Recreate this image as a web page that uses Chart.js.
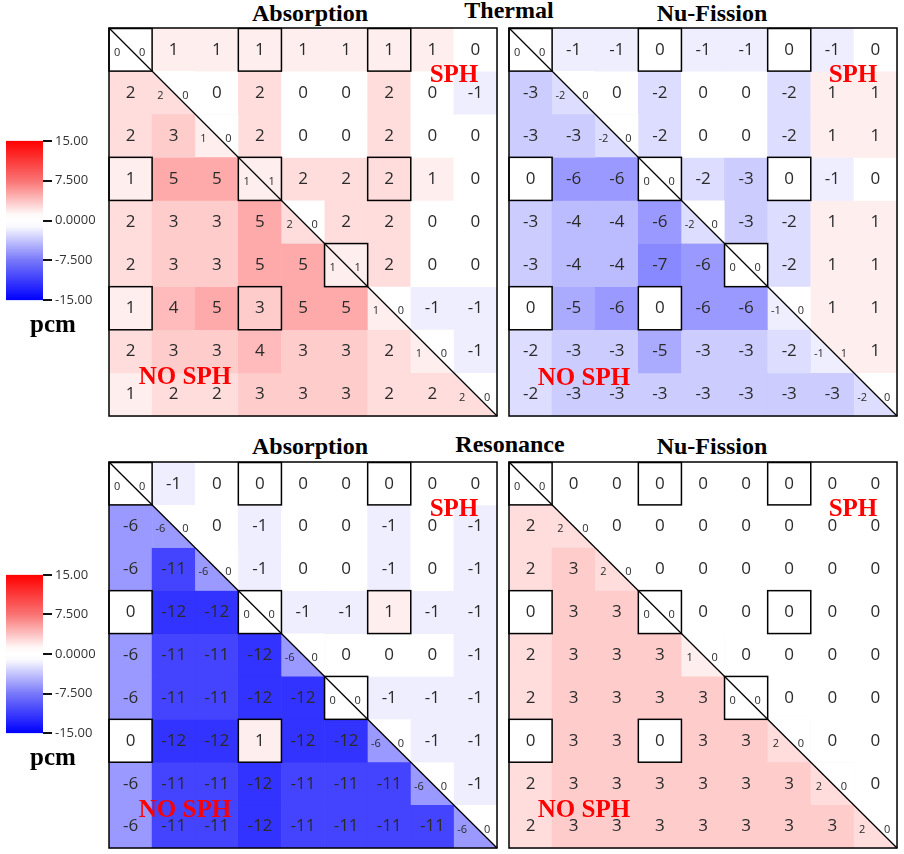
<!DOCTYPE html>
<html>
<head>
<meta charset="utf-8">
<script src="https://cdn.jsdelivr.net/npm/chart.js@4.4.0/dist/chart.umd.min.js"></script>
<style>
  body { margin: 0; background: #fff; width: 904px; height: 854px; position: relative; overflow: hidden; }
  canvas { position: absolute; }
  .title { position: absolute; font: bold 24px "Liberation Serif", "Times New Roman", serif; line-height: 24px; white-space: nowrap; transform: translateX(-50%); color: #000; }
  .tag { position: absolute; font: bold 25px "Liberation Serif", "Times New Roman", serif; line-height: 25px; white-space: nowrap; transform: translate(-50%, -50%); color: #ff0000; z-index: 5; }
</style>
</head>
<body>
<div class="title" style="left:310px; top:1px">Absorption</div>
<div class="title" style="left:509px; top:-2px">Thermal</div>
<div class="title" style="left:712px; top:1px">Nu-Fission</div>
<div class="title" style="left:310px; top:434px">Absorption</div>
<div class="title" style="left:510px; top:432px">Resonance</div>
<div class="title" style="left:712px; top:434px">Nu-Fission</div>

<canvas id="bar1" width="100" height="181" style="left:0; top:130px"></canvas>
<canvas id="bar2" width="100" height="180" style="left:0; top:564px"></canvas>
<div class="title" style="left:53px; top:312px; font-size:25px">pcm</div>
<div class="title" style="left:53px; top:745px; font-size:25px">pcm</div>

<canvas id="p1" width="392" height="392" style="left:107px; top:26px"></canvas>
<canvas id="p2" width="392" height="392" style="left:507px; top:26px"></canvas>
<canvas id="p3" width="392" height="390" style="left:107px; top:460px"></canvas>
<canvas id="p4" width="392" height="390" style="left:507px; top:460px"></canvas>

<div class="tag" style="left:454px; top:73px">SPH</div>
<div class="tag" style="left:185px; top:375px">NO SPH</div>
<div class="tag" style="left:853px; top:73px">SPH</div>
<div class="tag" style="left:584px; top:376px">NO SPH</div>
<div class="tag" style="left:454px; top:507px">SPH</div>
<div class="tag" style="left:185px; top:808px">NO SPH</div>
<div class="tag" style="left:853px; top:507px">SPH</div>
<div class="tag" style="left:584px; top:808px">NO SPH</div>

<script>
// 9x9 pin cells: lower triangle = NO SPH, upper triangle = SPH (pcm)
const pins = ['1', '2', '3', '4', '5', '6', '7', '8', '9'];
const guideTubes = [[0, 0], [0, 3], [0, 6], [3, 0], [3, 3], [3, 6], [5, 5], [6, 0], [6, 3]];
const barTicks = [-15, -7.5, 0, 7.5, 15];
const barLabels = ['-15.00', '-7.500', '0.0000', '7.500', '15.00'];

// diagonal cells: [NO SPH, SPH]
const thermalAbs = [
    [null, 1, 1, 1, 1, 1, 1, 1, 0],
    [2, null, 0, 2, 0, 0, 2, 0, -1],
    [2, 3, null, 2, 0, 0, 2, 0, 0],
    [1, 5, 5, null, 2, 2, 2, 1, 0],
    [2, 3, 3, 5, null, 2, 2, 0, 0],
    [2, 3, 3, 5, 5, null, 2, 0, 0],
    [1, 4, 5, 3, 5, 5, null, -1, -1],
    [2, 3, 3, 4, 3, 3, 2, null, -1],
    [1, 2, 2, 3, 3, 3, 2, 2, null]
];
const thermalAbsDiag = [[0, 0], [2, 0], [1, 0], [1, 1], [2, 0], [1, 1], [1, 0], [1, 0], [2, 0]];

const thermalFis = [
    [null, -1, -1, 0, -1, -1, 0, -1, 0],
    [-3, null, 0, -2, 0, 0, -2, 1, 1],
    [-3, -3, null, -2, 0, 0, -2, 1, 1],
    [0, -6, -6, null, -2, -3, 0, -1, 0],
    [-3, -4, -4, -6, null, -3, -2, 1, 1],
    [-3, -4, -4, -7, -6, null, -2, 1, 1],
    [0, -5, -6, 0, -6, -6, null, 1, 1],
    [-2, -3, -3, -5, -3, -3, -2, null, 1],
    [-2, -3, -3, -3, -3, -3, -3, -3, null]
];
const thermalFisDiag = [[0, 0], [-2, 0], [-2, 0], [0, 0], [-2, 0], [0, 0], [-1, 0], [-1, 1], [-2, 0]];

const resoAbs = [
    [null, -1, 0, 0, 0, 0, 0, 0, 0],
    [-6, null, 0, -1, 0, 0, -1, 0, -1],
    [-6, -11, null, -1, 0, 0, -1, 0, -1],
    [0, -12, -12, null, -1, -1, 1, -1, -1],
    [-6, -11, -11, -12, null, 0, 0, 0, -1],
    [-6, -11, -11, -12, -12, null, -1, -1, -1],
    [0, -12, -12, 1, -12, -12, null, -1, -1],
    [-6, -11, -11, -12, -11, -11, -11, null, -1],
    [-6, -11, -11, -12, -11, -11, -11, -11, null]
];
const resoAbsDiag = [[0, 0], [-6, 0], [-6, 0], [0, 0], [-6, 0], [0, 0], [-6, 0], [-6, 0], [-6, 0]];

const resoFis = [
    [null, 0, 0, 0, 0, 0, 0, 0, 0],
    [2, null, 0, 0, 0, 0, 0, 0, 0],
    [2, 3, null, 0, 0, 0, 0, 0, 0],
    [0, 3, 3, null, 0, 0, 0, 0, 0],
    [2, 3, 3, 3, null, 0, 0, 0, 0],
    [2, 3, 3, 3, 3, null, 0, 0, 0],
    [0, 3, 3, 0, 3, 3, null, 0, 0],
    [2, 3, 3, 3, 3, 3, 3, null, 0],
    [2, 3, 3, 3, 3, 3, 3, 3, null]
];
const resoFisDiag = [[0, 0], [2, 0], [2, 0], [0, 0], [1, 0], [0, 0], [2, 0], [2, 0], [2, 0]];

function colorOf(v) {
    const t = Math.min(Math.abs(v) / 15, 1);
    const c = Math.round(255 * (1 - t));
    return v >= 0 ? `rgb(255,${c},${c})` : `rgb(${c},${c},255)`;
}

const cellPlugin = {
    id: 'cells',
    afterDatasetsDraw(chart) {
        const ctx = chart.ctx;
        const diag = chart.options.plugins.cells.diag;
        diag.forEach((d, r) => {
            const bar = chart.getDatasetMeta(r).data[r];
            const l = bar.x - bar.width / 2, rr = bar.x + bar.width / 2;
            const t = Math.min(bar.y, bar.base), b = Math.max(bar.y, bar.base);
            ctx.save();
            ctx.fillStyle = colorOf(d[0]);
            ctx.beginPath(); ctx.moveTo(l, t); ctx.lineTo(l, b); ctx.lineTo(rr, b); ctx.closePath(); ctx.fill();
            ctx.fillStyle = colorOf(d[1]);
            ctx.beginPath(); ctx.moveTo(l, t); ctx.lineTo(rr, t); ctx.lineTo(rr, b); ctx.closePath(); ctx.fill();
            ctx.restore();
        });
    },
    afterDraw(chart) {
        const ctx = chart.ctx;
        const { grid, diag } = chart.options.plugins.cells;
        const area = chart.chartArea;
        ctx.save();
        ctx.textAlign = 'center';
        ctx.textBaseline = 'middle';
        ctx.fillStyle = '#2a2a2a';
        grid.forEach((row, r) => {
            const meta = chart.getDatasetMeta(r);
            row.forEach((v, j) => {
                const bar = meta.data[j];
                const cy = (bar.y + bar.base) / 2;
                if (j === r) {
                    ctx.font = '11px "Open Sans", sans-serif';
                    ctx.fillText(String(diag[r][0]), bar.x - bar.width * 0.31, cy + 3);
                    ctx.fillText(String(diag[r][1]), bar.x + bar.width * 0.27, cy + 3);
                } else {
                    ctx.font = '17px "Open Sans", sans-serif';
                    ctx.fillText(String(v), bar.x, cy);
                }
            });
        });
        // guide tube boxes
        ctx.strokeStyle = '#000';
        ctx.lineWidth = 1.5;
        guideTubes.forEach(([r, j]) => {
            const bar = chart.getDatasetMeta(r).data[j];
            const t = Math.min(bar.y, bar.base);
            ctx.strokeRect(bar.x - bar.width / 2, t, bar.width, Math.abs(bar.base - bar.y));
        });
        ctx.lineWidth = 1.3;
        ctx.beginPath();
        ctx.moveTo(area.left, area.top);
        ctx.lineTo(area.right, area.bottom);
        ctx.stroke();
        ctx.lineWidth = 1.5;
        ctx.strokeRect(area.left, area.top, area.right - area.left, area.bottom - area.top);
        ctx.restore();
    }
};

function makePanel(id, grid, diag) {
    const datasets = grid.map((row, r) => ({
        data: pins.map(() => [r, r + 1]),
        backgroundColor: row.map((v, j) => j === r ? 'rgba(0,0,0,0)' : colorOf(v)),
        borderWidth: 0,
        grouped: false,
        barPercentage: 1,
        categoryPercentage: 1
    }));
    new Chart(document.getElementById(id), {
        type: 'bar',
        data: { labels: pins, datasets: datasets },
        options: {
            responsive: false,
            animation: false,
            layout: { padding: 2 },
            plugins: {
                legend: { display: false },
                tooltip: { enabled: false },
                cells: { grid: grid, diag: diag }
            },
            scales: {
                x: {
                    offset: true,
                    z: 1,
                    ticks: { display: false },
                    border: { display: false },
                    grid: { offset: true, drawTicks: false, color: 'rgba(0,0,0,0.12)' }
                },
                y: {
                    min: 0,
                    max: 9,
                    reverse: true,
                    z: 1,
                    ticks: { display: false, stepSize: 1 },
                    border: { display: false },
                    grid: { drawTicks: false, color: 'rgba(0,0,0,0.12)' }
                }
            }
        },
        plugins: [cellPlugin]
    });
}

function makeColorBar(id) {
    new Chart(document.getElementById(id), {
        type: 'bar',
        data: {
            labels: [''],
            datasets: [{
                data: [[-15, 15]],
                barPercentage: 1,
                categoryPercentage: 1,
                borderWidth: 0,
                backgroundColor: (c) => {
                    const a = c.chart.chartArea;
                    if (!a) return '#fff';
                    const g = c.chart.ctx.createLinearGradient(0, a.top, 0, a.bottom);
                    g.addColorStop(0, 'rgb(255,0,0)');
                    g.addColorStop(0.25, 'rgb(250,115,115)');
                    g.addColorStop(0.46, 'rgb(255,248,248)');
                    g.addColorStop(0.5, 'rgb(255,255,255)');
                    g.addColorStop(0.54, 'rgb(248,248,255)');
                    g.addColorStop(0.75, 'rgb(120,120,250)');
                    g.addColorStop(1, 'rgb(0,0,255)');
                    return g;
                }
            }]
        },
        options: {
            responsive: false,
            animation: false,
            layout: { padding: { left: 6, top: 8, bottom: 8, right: 0 } },
            plugins: { legend: { display: false }, tooltip: { enabled: false } },
            scales: {
                x: { display: false },
                y: {
                    position: 'right',
                    min: -15,
                    max: 15,
                    afterBuildTicks: (s) => { s.ticks = barTicks.map(v => ({ value: v })); },
                    afterFit: (s) => { s.width = 57; },
                    ticks: {
                        callback: (v) => barLabels[barTicks.indexOf(v)],
                        font: { size: 13, family: '"Open Sans", sans-serif' },
                        color: '#333',
                        padding: 3
                    },
                    border: { display: false },
                    grid: { drawOnChartArea: false, drawTicks: true, tickLength: 9, color: '#111', lineWidth: 2 }
                }
            }
        }
    });
}

makePanel('p1', thermalAbs, thermalAbsDiag);
makePanel('p2', thermalFis, thermalFisDiag);
makePanel('p3', resoAbs, resoAbsDiag);
makePanel('p4', resoFis, resoFisDiag);
makeColorBar('bar1');
makeColorBar('bar2');
</script>
</body>
</html>
